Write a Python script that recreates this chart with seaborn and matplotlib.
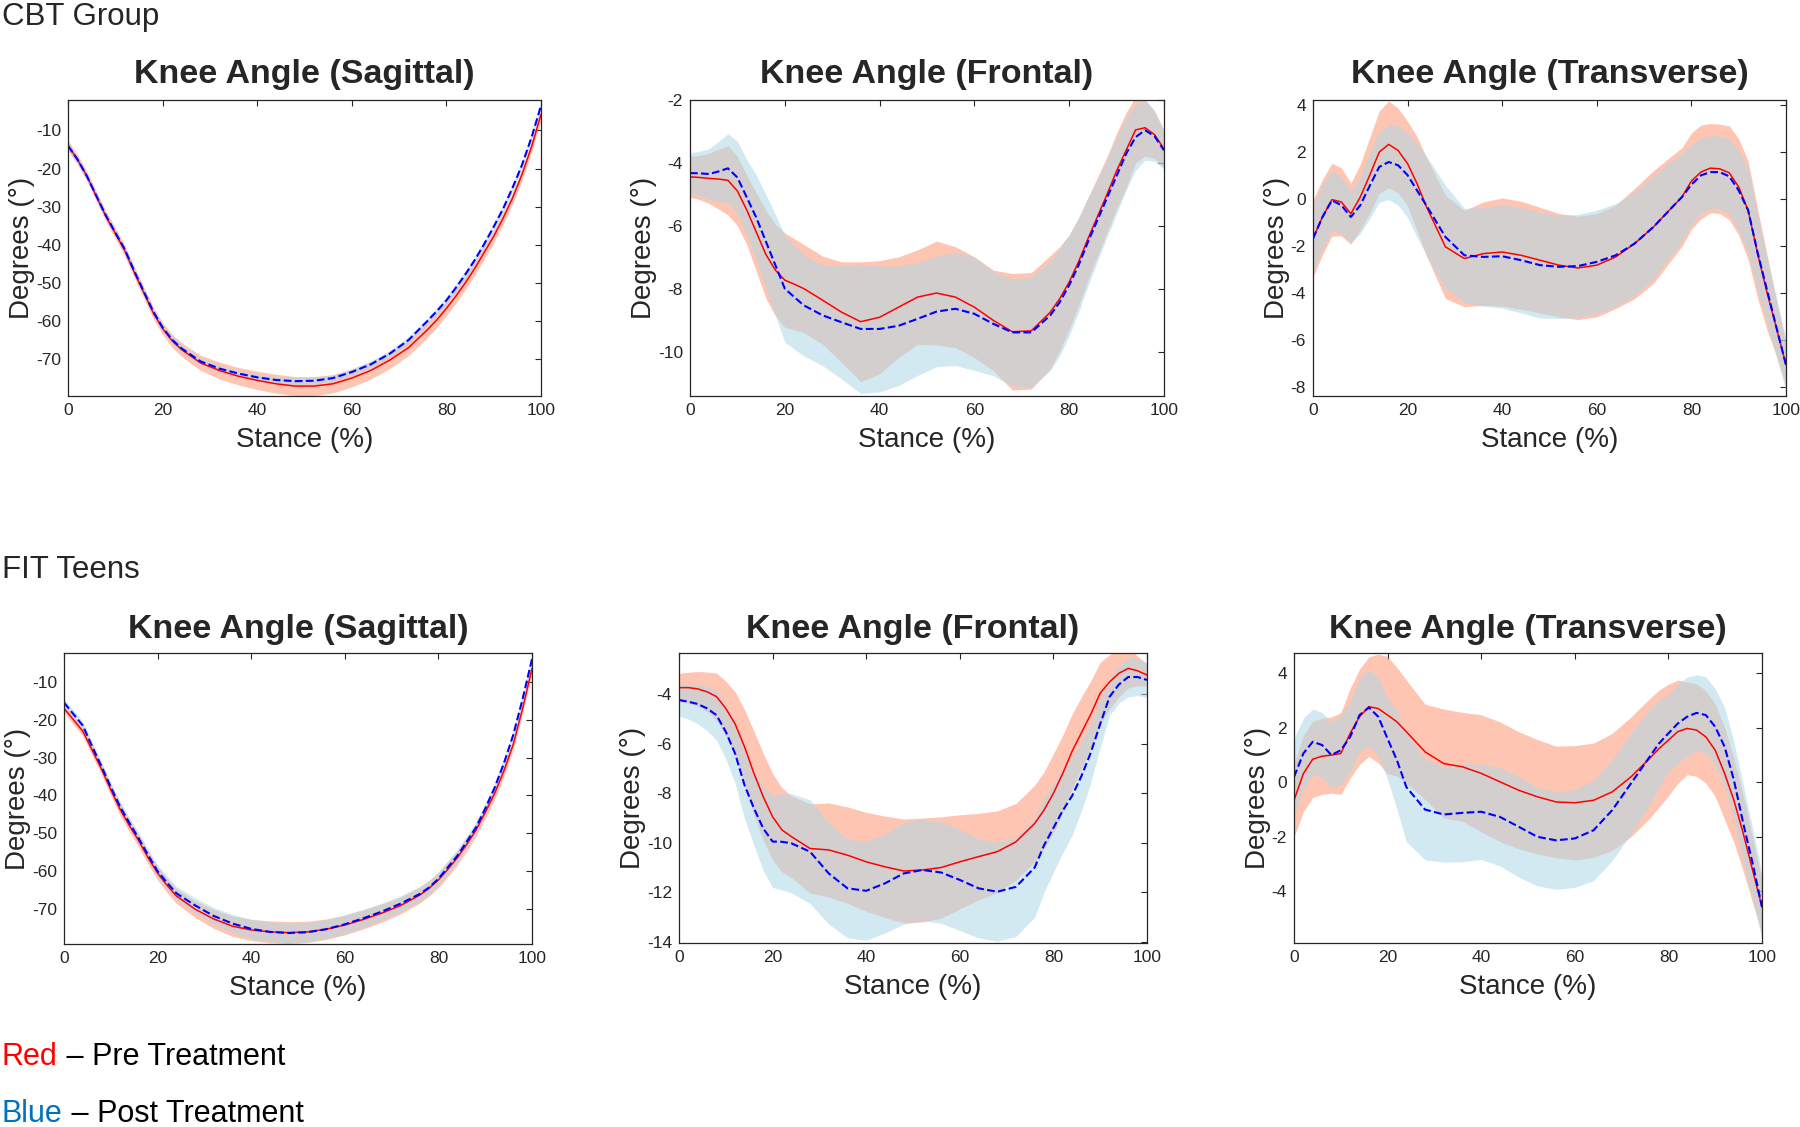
import matplotlib
matplotlib.use("Agg")
import matplotlib.pyplot as plt
import seaborn as sns
import numpy as np

# stance phase (%) sample points (denser where the curves bend most)
stance = [0, 2, 4, 6, 8, 10, 12, 14, 16, 18, 20, 22, 24,
          28, 32, 36, 40, 44, 48, 52, 56, 60, 64, 68, 72,
          76, 78, 80, 82, 84, 86, 88, 90, 92, 94, 96, 98, 100]

# CBT group - sagittal
cbt_sag_pre = [-14, -17.6, -22, -27.3, -32.5, -37, -41.5, -47.2, -52.5, -57.8, -62, -65.2, -67.5,
               -71, -73, -74.5, -75.6, -76.5, -77.1, -77.1, -76.5, -75, -73, -70.3, -67,
               -62.3, -59.7, -56.7, -53.5, -50, -46.2, -42, -37.8, -33, -27.7, -21.5, -14.3, -5.8]
cbt_sag_pre_sd = [1.3, 1.3, 1.3, 1.35, 1.4, 1.45, 1.5, 1.5, 1.5, 1.55, 1.6, 1.7, 1.8,
                  2.0, 2.2, 2.3, 2.4, 2.5, 2.5, 2.5, 2.4, 2.3, 2.3, 2.2, 2.1,
                  2.0, 1.95, 1.9, 1.85, 1.8, 1.75, 1.7, 1.65, 1.6, 1.55, 1.5, 1.45, 1.4]
cbt_sag_post = [-14, -17.6, -22, -27.2, -32.3, -36.8, -41.2, -46.9, -52.2, -57.5, -61.7, -64.9, -67.2,
                -70.6, -72.5, -73.8, -74.8, -75.5, -75.8, -75.7, -75, -73.4, -71.4, -68.6, -65,
                -60, -57.4, -54.6, -51.3, -47.8, -44, -39.8, -35.3, -30.5, -25, -19, -11.8, -3.5]
cbt_sag_post_sd = [1.0, 0.95, 0.9, 0.9, 0.9, 0.9, 0.9, 0.9, 0.9, 0.9, 0.9, 0.9, 0.9,
                   0.9, 0.9, 0.9, 0.9, 0.9, 0.9, 0.9, 0.9, 0.9, 0.9, 0.9, 0.9,
                   0.9, 0.95, 1.0, 1.0, 1.0, 1.0, 1.0, 1.0, 1.0, 1.0, 1.0, 1.0, 1.0]

# CBT group - frontal
cbt_fro_pre = [-4.44, -4.46, -4.49, -4.51, -4.55, -4.89, -5.5, -6.2, -6.9, -7.4, -7.72, -7.85, -7.99,
               -8.36, -8.74, -9.04, -8.9, -8.58, -8.26, -8.13, -8.26, -8.58, -9.0, -9.36, -9.33,
               -8.74, -8.31, -7.78, -7.13, -6.39, -5.69, -4.99, -4.25, -3.6, -2.95, -2.88, -3.1, -3.55]
cbt_fro_pre_sd = [0.65, 0.7, 0.8, 0.95, 1.1, 1.1, 1.1, 1.25, 1.4, 1.45, 1.5, 1.45, 1.4,
                  1.4, 1.6, 1.9, 1.8, 1.6, 1.5, 1.65, 1.6, 1.6, 1.6, 1.85, 1.85,
                  1.8, 1.65, 1.5, 1.4, 1.3, 1.25, 1.2, 1.2, 1.2, 1.05, 0.9, 0.75, 0.6]
cbt_fro_post = [-4.32, -4.33, -4.35, -4.27, -4.17, -4.46, -5.1, -5.74, -6.49, -7.24, -7.99, -8.26, -8.52,
                -8.84, -9.06, -9.27, -9.27, -9.17, -8.95, -8.72, -8.63, -8.79, -9.11, -9.38, -9.38,
                -8.84, -8.42, -7.88, -7.24, -6.49, -5.8, -5.1, -4.41, -3.71, -3.18, -2.96, -3.15, -3.6]
cbt_fro_post_sd = [0.65, 0.7, 0.8, 0.95, 1.1, 1.15, 1.2, 1.35, 1.5, 1.6, 1.7, 1.65, 1.6,
                   1.6, 1.8, 2.05, 2.0, 1.9, 1.8, 1.75, 1.8, 1.8, 1.65, 1.7, 1.75,
                   1.75, 1.7, 1.6, 1.5, 1.4, 1.3, 1.25, 1.2, 1.15, 1.05, 0.95, 0.8, 0.6]

# CBT group - transverse
cbt_tra_pre = [-1.7, -0.78, -0.04, -0.14, -0.64, 0.07, 1.0, 1.98, 2.31, 2.05, 1.49, 0.64, -0.35,
               -2.05, -2.55, -2.34, -2.27, -2.41, -2.62, -2.83, -2.95, -2.83, -2.48, -1.91, -1.2,
               -0.35, 0.07, 0.75, 1.13, 1.3, 1.27, 1.1, 0.5, -0.5, -2.34, -4.0, -5.52, -7.08]
cbt_tra_pre_sd = [1.65, 1.6, 1.55, 1.45, 1.3, 1.4, 1.6, 1.75, 1.85, 1.8, 1.8, 2.0, 2.1,
                  2.2, 2.05, 2.2, 2.3, 2.3, 2.25, 2.2, 2.2, 2.2, 2.2, 2.35, 2.4,
                  2.2, 2.1, 2.05, 2.0, 1.9, 1.9, 2.0, 2.05, 2.1, 1.9, 1.6, 1.2, 0.9]
cbt_tra_post = [-1.7, -0.78, -0.07, -0.28, -0.78, -0.28, 0.55, 1.35, 1.56, 1.42, 1.0, 0.35, -0.3,
                -1.63, -2.41, -2.48, -2.45, -2.62, -2.83, -2.9, -2.87, -2.69, -2.41, -1.91, -1.2,
                -0.35, 0.07, 0.6, 0.99, 1.13, 1.13, 0.95, 0.35, -0.5, -2.3, -3.9, -5.5, -7.08]
cbt_tra_post_sd = [1.4, 1.35, 1.3, 1.2, 1.1, 1.2, 1.4, 1.5, 1.6, 1.7, 1.8, 2.0, 2.1,
                   2.2, 2.0, 2.1, 2.2, 2.25, 2.25, 2.2, 2.2, 2.2, 2.2, 2.2, 2.2,
                   2.0, 1.85, 1.7, 1.6, 1.55, 1.55, 1.6, 1.7, 1.8, 1.6, 1.4, 1.25, 1.1]

# FIT Teens - sagittal
fit_sag_pre = [-17, -20, -23, -28, -33, -38.5, -43.7, -48, -52, -56.5, -60.5, -63.7, -66.5,
               -70, -72.6, -74.5, -75.5, -76, -76.2, -76, -75.3, -74.2, -72.7, -71, -69,
               -66.3, -64.5, -62.3, -59.5, -56.5, -53, -49.2, -44.5, -39.5, -33.5, -26.5, -17, -6.5]
fit_sag_pre_sd = [1.2, 1.25, 1.3, 1.4, 1.5, 1.55, 1.6, 1.65, 1.7, 1.75, 1.8, 1.9, 2.0,
                  2.2, 2.5, 2.7, 2.8, 2.9, 2.9, 2.8, 2.7, 2.6, 2.5, 2.4, 2.2,
                  2.1, 2.05, 2.0, 1.95, 1.9, 1.8, 1.7, 1.65, 1.6, 1.5, 1.4, 1.3, 1.2]
fit_sag_post = [-15.5, -18.5, -21.5, -27, -32.3, -37.8, -43, -47.3, -51.4, -55.8, -60, -63, -65.8,
                -69, -71.8, -73.8, -75.2, -76, -76.3, -76.1, -75.3, -74, -72.4, -70.6, -68.5,
                -66, -64.3, -62, -59, -56, -52.3, -48.5, -43.5, -38, -31.5, -24, -14.5, -4]
fit_sag_post_sd = [1.0, 1.05, 1.1, 1.2, 1.3, 1.35, 1.4, 1.45, 1.5, 1.55, 1.6, 1.7, 1.8,
                   2.0, 2.2, 2.4, 2.5, 2.6, 2.6, 2.6, 2.5, 2.5, 2.4, 2.2, 2.1,
                   2.0, 1.9, 1.8, 1.75, 1.7, 1.65, 1.6, 1.5, 1.4, 1.3, 1.2, 1.1, 1.0]

# FIT Teens - frontal
fit_fro_pre = [-3.73, -3.73, -3.78, -3.9, -4.09, -4.57, -5.2, -6.12, -7.19, -8.14, -8.95, -9.48, -9.75,
               -10.23, -10.29, -10.5, -10.77, -10.97, -11.14, -11.1, -11.0, -10.77, -10.56, -10.36, -9.96,
               -9.22, -8.68, -8.0, -7.2, -6.3, -5.55, -4.8, -3.95, -3.5, -3.15, -2.95, -3.05, -3.22]
fit_fro_pre_sd = [0.58, 0.62, 0.7, 0.8, 0.95, 1.1, 1.3, 1.5, 1.7, 1.75, 1.75, 1.7, 1.65,
                  1.8, 1.9, 1.95, 2.0, 2.05, 2.1, 2.1, 2.05, 1.9, 1.75, 1.65, 1.55,
                  1.55, 1.55, 1.6, 1.55, 1.5, 1.45, 1.35, 1.25, 1.1, 0.95, 0.8, 0.6, 0.45]
fit_fro_post = [-4.23, -4.3, -4.39, -4.57, -4.84, -5.51, -6.4, -7.67, -8.6, -9.42, -9.95, -9.96, -10.02,
                -10.36, -11.24, -11.84, -11.94, -11.64, -11.24, -11.1, -11.2, -11.5, -11.84, -11.98, -11.78,
                -11.0, -10.1, -9.4, -8.7, -8.1, -7.3, -6.35, -5.2, -4.1, -3.6, -3.3, -3.3, -3.42]
fit_fro_post_sd = [0.65, 0.7, 0.8, 0.9, 1.0, 1.1, 1.2, 1.35, 1.5, 1.7, 1.85, 1.95, 2.0,
                   2.1, 2.05, 2.0, 2.0, 2.0, 2.05, 2.05, 2.05, 2.05, 2.0, 2.0, 2.0,
                   2.0, 1.9, 1.8, 1.7, 1.6, 1.4, 1.2, 0.95, 0.75, 0.75, 0.8, 0.75, 0.7]

# FIT Teens - transverse
fit_tra_pre = [-0.66, 0.32, 0.85, 0.96, 1.0, 1.06, 1.8, 2.41, 2.78, 2.71, 2.47, 2.22, 1.86,
               1.12, 0.69, 0.57, 0.33, 0.02, -0.29, -0.53, -0.72, -0.75, -0.66, -0.35, 0.2,
               0.88, 1.24, 1.55, 1.86, 1.98, 1.92, 1.67, 1.18, 0.33, -0.66, -1.88, -3.23, -4.58]
fit_tra_pre_sd = [1.35, 1.4, 1.4, 1.4, 1.4, 1.5, 1.65, 1.75, 1.83, 2.0, 2.15, 2.0, 1.9,
                  1.75, 2.0, 2.0, 2.15, 2.2, 2.15, 2.1, 2.05, 2.1, 2.1, 2.15, 2.2,
                  2.2, 2.15, 2.05, 1.9, 1.7, 1.7, 1.7, 1.7, 1.7, 1.55, 1.4, 1.2, 1.0]
fit_tra_post = [0.2, 1.06, 1.49, 1.37, 1.0, 1.18, 1.67, 2.47, 2.75, 2.41, 1.6, 0.81, -0.17,
                -1.0, -1.18, -1.12, -1.08, -1.27, -1.63, -2.0, -2.13, -2.06, -1.76, -1.02, -0.04,
                0.94, 1.43, 1.8, 2.16, 2.41, 2.55, 2.47, 2.04, 1.31, 0.08, -1.51, -2.98, -4.58]
fit_tra_post_sd = [1.4, 1.3, 1.2, 1.2, 1.2, 1.25, 1.3, 1.35, 1.4, 1.45, 1.5, 1.8, 2.0,
                   1.85, 1.75, 1.8, 1.75, 1.8, 1.85, 1.8, 1.8, 1.8, 1.85, 1.85, 1.85,
                   1.75, 1.6, 1.4, 1.45, 1.45, 1.4, 1.4, 1.4, 1.45, 1.4, 1.4, 1.3, 1.2]

titles = ["Knee Angle (Sagittal)", "Knee Angle (Frontal)", "Knee Angle (Transverse)"]

W, H = 1800, 1127
PRE_FILL = "#FF8C69"
POST_FILL = "#ADD8E6"
AX_COLOR = "#262626"

sns.set_style("white")
plt.rcParams["font.family"] = ["Liberation Sans", "DejaVu Sans"]
plt.rcParams["axes.unicode_minus"] = False


def px_rect(left, top, right, bottom):
    return [left / W, 1 - bottom / H, (right - left) / W, (bottom - top) / H]


def draw_panel(ax, title, pre, pre_sd, post, post_sd, ylim, yticks, title_pad):
    x = np.array(stance, dtype=float)
    pre, pre_sd = np.array(pre), np.array(pre_sd)
    post, post_sd = np.array(post), np.array(post_sd)

    # pre: band + solid line, post band drawn over it, then dashed post mean
    ax.fill_between(x, pre - pre_sd, pre + pre_sd, color=PRE_FILL, alpha=0.5, lw=0)
    sns.lineplot(x=x, y=pre, ax=ax, color="red", lw=1.1)
    ax.fill_between(x, post - post_sd, post + post_sd, color=POST_FILL, alpha=0.55, lw=0)
    sns.lineplot(x=x, y=post, ax=ax, color="blue", lw=1.5, linestyle="--")

    ax.set_xlim(0, 100)
    ax.set_ylim(*ylim)
    ax.set_xticks([0, 20, 40, 60, 80, 100])
    ax.set_yticks(yticks)
    ax.set_title(title, fontsize=24.5, fontweight="bold", pad=title_pad)
    ax.set_xlabel("Stance (%)", fontsize=20, color=AX_COLOR, labelpad=6.5)
    ax.set_ylabel("Degrees (°)", fontsize=20, color=AX_COLOR, labelpad=0.5)
    ax.tick_params(direction="in", length=4, width=0.8, top=True, right=True,
                   labelsize=12.5, colors=AX_COLOR, pad=5)
    for sp in ax.spines.values():
        sp.set_color(AX_COLOR)
        sp.set_linewidth(0.9)


fig = plt.figure(figsize=(18, 11.27), dpi=100)

panels = [
    (px_rect(68, 100, 541, 396), titles[0], cbt_sag_pre, cbt_sag_pre_sd, cbt_sag_post, cbt_sag_post_sd,
     (-79.7, -2.0), [-70, -60, -50, -40, -30, -20, -10], 12),
    (px_rect(690, 100, 1164, 396), titles[1], cbt_fro_pre, cbt_fro_pre_sd, cbt_fro_post, cbt_fro_post_sd,
     (-11.4, -2.0), [-10, -8, -6, -4, -2], 12),
    (px_rect(1313, 100, 1786, 396), titles[2], cbt_tra_pre, cbt_tra_pre_sd, cbt_tra_post, cbt_tra_post_sd,
     (-8.4, 4.2), [-8, -6, -4, -2, 0, 2, 4], 12),
    (px_rect(64, 653, 532, 944), titles[0], fit_sag_pre, fit_sag_pre_sd, fit_sag_post, fit_sag_post_sd,
     (-79.2, -2.4), [-70, -60, -50, -40, -30, -20, -10], 11),
    (px_rect(679, 653, 1147, 943), titles[1], fit_fro_pre, fit_fro_pre_sd, fit_fro_post, fit_fro_post_sd,
     (-14.05, -2.33), [-14, -12, -10, -8, -6, -4], 11),
    (px_rect(1294, 653, 1762, 943), titles[2], fit_tra_pre, fit_tra_pre_sd, fit_tra_post, fit_tra_post_sd,
     (-5.9, 4.75), [-4, -2, 0, 2, 4], 11),
]

for rect, title, pre, pre_sd, post, post_sd, ylim, yticks, pad in panels:
    ax = fig.add_axes(rect)
    draw_panel(ax, title, pre, pre_sd, post, post_sd, ylim, yticks, pad)

# group headers
fig.text(0.001, 1 - 17 / H, "CBT Group", fontsize=22.5, ha="left", va="center")
fig.text(0.001, 1 - 570 / H, "FIT Teens", fontsize=22.5, ha="left", va="center")

# colour key at the bottom
key = fig.add_axes([0, 0, 1, 1])
key.axis("off")
key.set_xlim(0, 1)
key.set_ylim(0, 1)
t1 = key.text(0.001, 1 - 1065 / H, "Red", color="#FF0000", fontsize=22, va="baseline", ha="left")
key.annotate(" – Pre Treatment", xy=(1, 0), xycoords=t1, va="bottom", ha="left",
             fontsize=22, color="black")
t2 = key.text(0.001, 1 - 1122 / H, "Blue", color="#0070C0", fontsize=22, va="baseline", ha="left")
key.annotate(" – Post Treatment", xy=(1, 0), xycoords=t2, va="bottom", ha="left",
             fontsize=22, color="black")

fig.savefig("out.png", dpi=100)
plt.close(fig)
